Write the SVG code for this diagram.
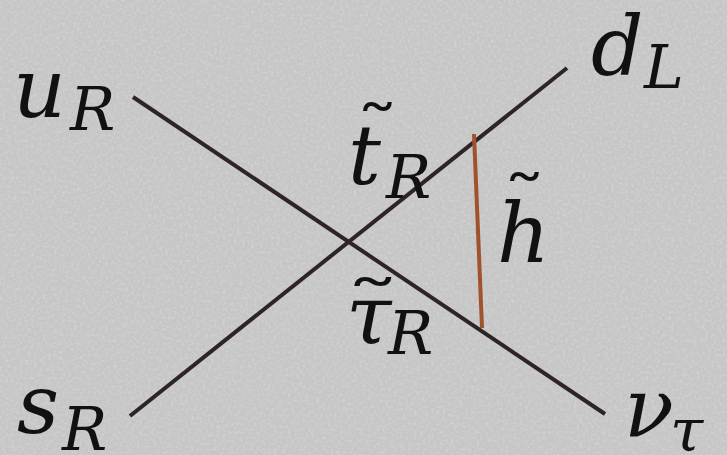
<svg xmlns="http://www.w3.org/2000/svg" width="727" height="455" viewBox="0 0 727 455">
<style>
text{font-family:'DejaVu Serif',serif;font-style:italic;fill:#111;}
.b{font-size:82px;}
.s{font-size:60px;}
.t{font-size:64px;font-style:normal;}
.ln{stroke:#2e2426;stroke-width:4;fill:none;}
.sc{stroke:#a0522d;stroke-width:4;fill:none;}
</style>
<defs>
<filter id="grain" x="0" y="0" width="100%" height="100%">
<feTurbulence type="fractalNoise" baseFrequency="0.35" numOctaves="2" seed="3"/>
<feColorMatrix type="matrix" values="0 0 0 0 1  0 0 0 0 1  0 0 0 0 1  0 0 0 0.5 -0.22"/>
</filter>
</defs>
<rect width="727" height="455" fill="#c6c6c6"/>
<rect width="727" height="455" filter="url(#grain)"/>
<g id="connectors">
<line class="ln" x1="133" y1="97" x2="605" y2="414"/>
<line class="ln" x1="130" y1="416" x2="567" y2="68"/>
<line class="sc" x1="474" y1="134" x2="482" y2="328"/>
</g>
<g id="uR"><text class="b" x="13" y="117">u</text><text class="s" x="70" y="130">R</text></g>
<g id="dL"><text class="b" x="591" y="75">d</text><text class="s" x="644" y="88">L</text></g>
<g id="tR"><text class="t" transform="translate(355,152) scale(1.4,1)">˜</text><text class="b" x="348" y="184">t</text><text class="s" x="386" y="198">R</text></g>
<g id="h"><text class="t" transform="translate(502,222) scale(1.4,1)">˜</text><text class="b" x="497" y="262">h</text></g>
<g id="tauR"><text class="t" transform="translate(344,327) scale(1.8,1)">˜</text><text class="b" x="346" y="344">τ</text><text class="s" x="388" y="354">R</text></g>
<g id="sR"><text class="b" x="17" y="433">s</text><text class="s" x="62" y="450">R</text></g>
<g id="nu"><text class="b" x="624" y="437">ν</text><text class="s" x="670" y="451">τ</text></g>
</svg>
